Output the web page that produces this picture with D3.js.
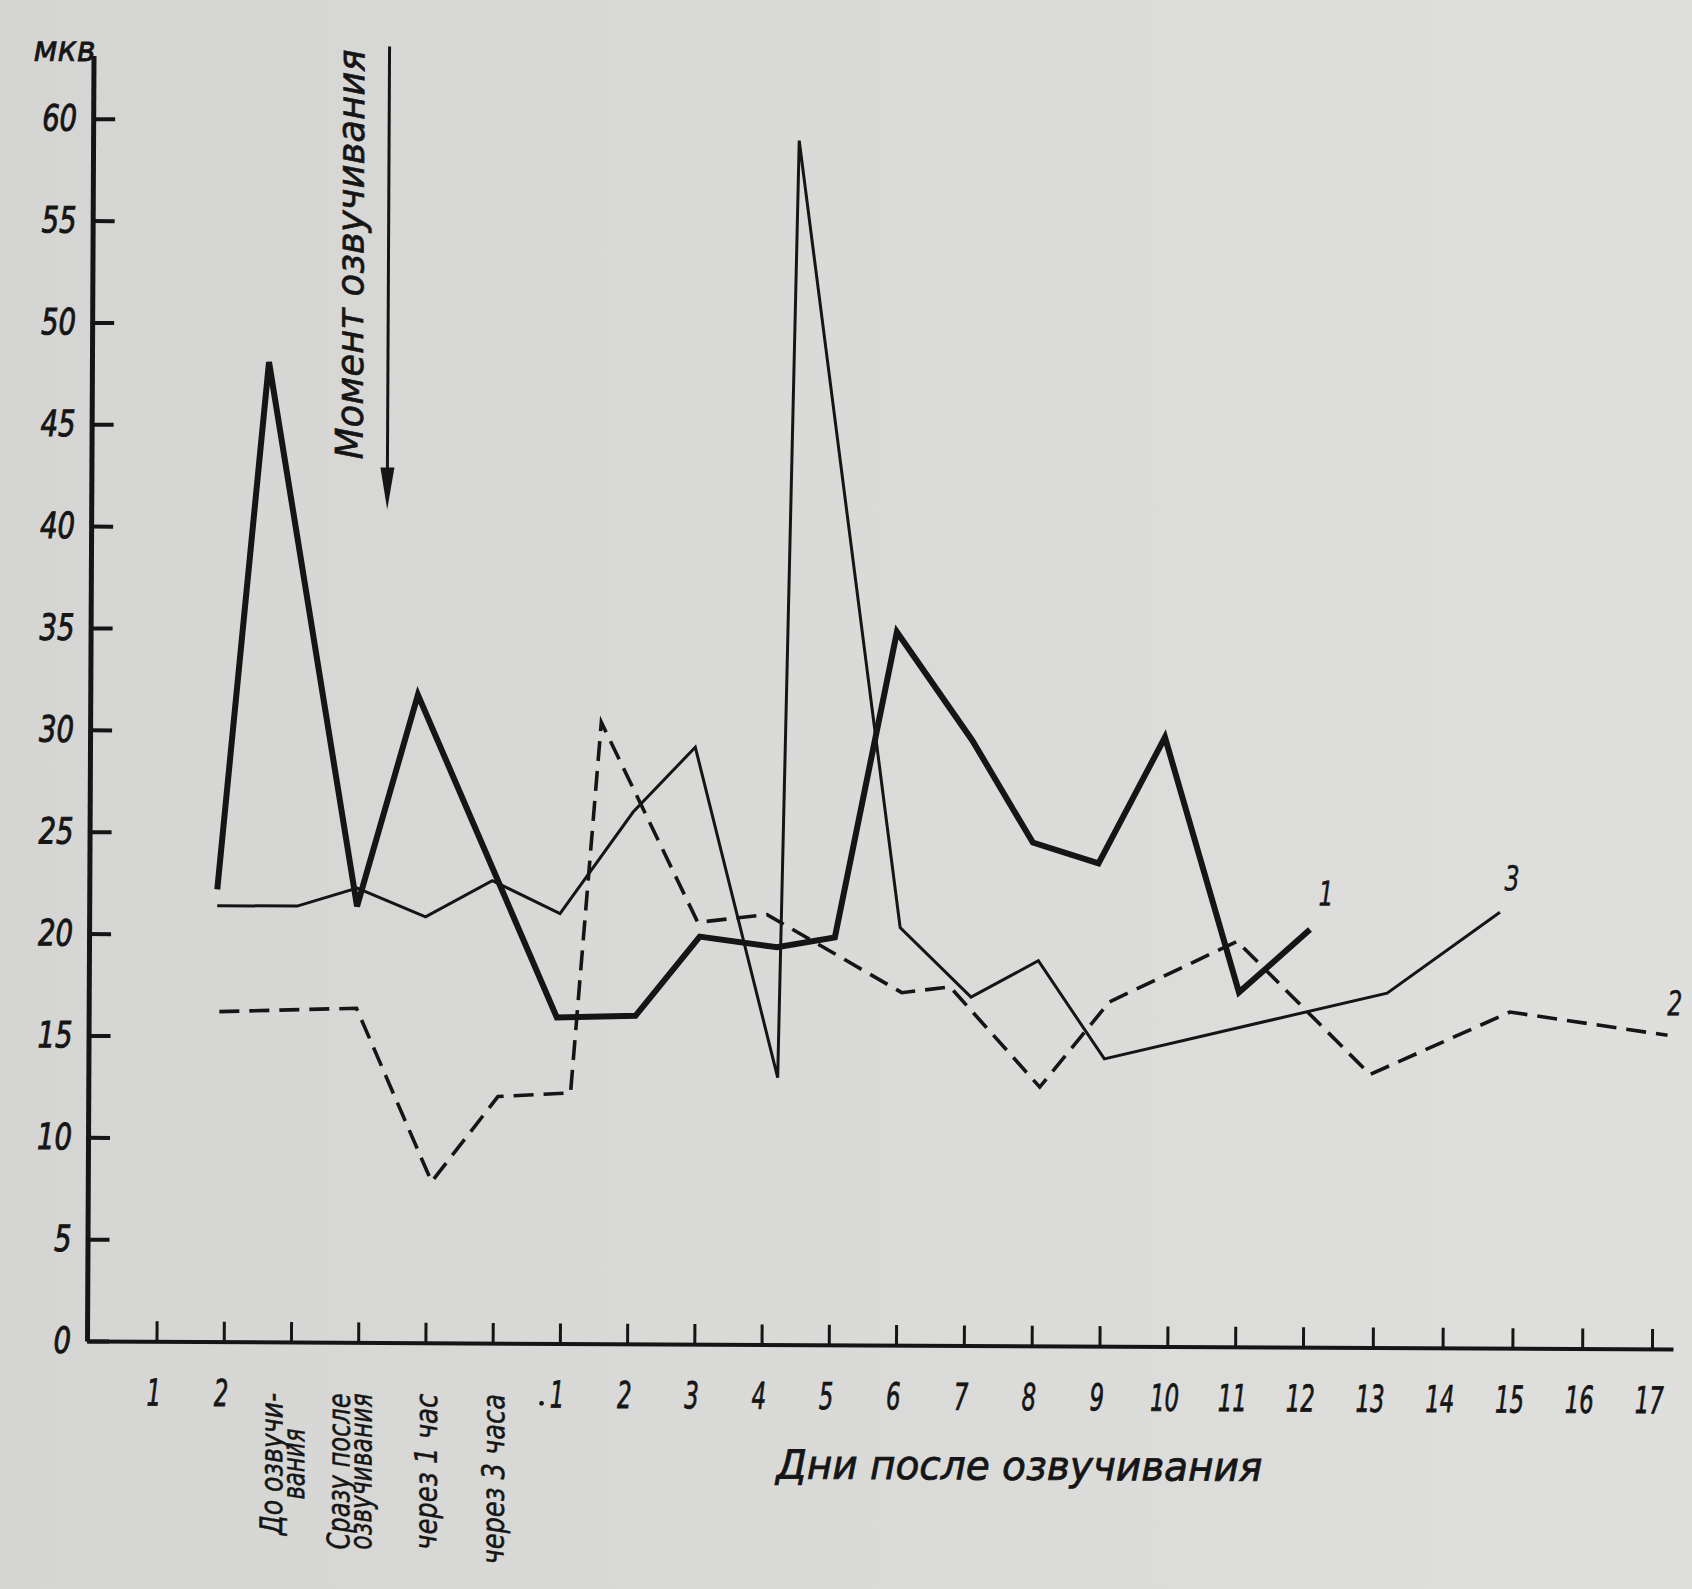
<!DOCTYPE html>
<html>
<head>
<meta charset="utf-8">
<script src="https://cdn.jsdelivr.net/npm/d3@7"></script>
<style>
  html, body { margin: 0; padding: 0; background: #d9dad7; }
  svg { display: block; }
  text {
    font-family: "DejaVu Sans", "Liberation Sans", sans-serif;
    font-style: italic;
    fill: #151515;
  }
</style>
</head>
<body>
<svg id="chart" width="1692" height="1589"></svg>
<script>
// ---- data ---------------------------------------------------------------
// x positions are measured in tick units along the time axis (0 … 22)
const tickIndex = d3.range(23);
const tickLabels = ["1", "2", "", "", "", "", "1", "2", "3", "4", "5", "6", "7",
                    "8", "9", "10", "11", "12", "13", "14", "15", "16", "17"];
const phaseTicks = [2, 3, 4, 5];
const phaseLines = [
  ["До озвучи-", "вания"],
  ["Сразу после", "озвучивания"],
  ["через 1 час"],
  ["через 3 часа"]
];
const yTickValues = [0, 5, 10, 15, 20, 25, 30, 35, 40, 45, 50, 55, 60];

// curve 1 (heavy solid)
const series1X = [0.87, 1.60, 2.95, 3.84, 5.93, 7.10, 8.05, 9.20, 10.06, 10.96, 12.08, 12.98, 13.95, 14.92, 16.03, 17.07];
const series1Y = [22.2, 48.1, 21.4, 31.8, 16.0, 16.1, 20.0, 19.5, 20.0, 35.0, 29.7, 24.7, 23.7, 29.9, 17.4, 20.5];
// curve 2 (dashed)
const series2X = [0.91, 2.95, 4.08, 5.06, 6.14, 6.57, 8.02, 9.05, 11.06, 11.77, 13.10, 14.12, 16.0, 17.94, 19.94, 22.2];
const series2Y = [16.2, 16.4, 7.9, 12.1, 12.3, 30.5, 20.7, 21.1, 17.3, 17.6, 12.7, 16.9, 19.9, 13.4, 16.5, 15.4];
// curve 3 (thin solid)
const series3X = [0.87, 2.06, 2.95, 3.97, 4.96, 5.97, 7.05, 7.97, 9.22, 9.47, 11.03, 12.08, 13.07, 14.05, 18.18, 19.79];
const series3Y = [21.4, 21.4, 22.3, 20.9, 22.7, 21.1, 26.1, 29.3, 13.1, 59.1, 20.5, 17.1, 18.9, 14.1, 17.4, 21.4];

const seriesNames = ["1", "2", "3"];

// ---- layout -------------------------------------------------------------
const W = 1692, H = 1589;
const ink = "#151515";
const svg = d3.select("#chart");

const defs = svg.append("defs");
const paper = defs.append("linearGradient").attr("id", "paper")
  .attr("x1", 0).attr("x2", 1).attr("y1", 0).attr("y2", 0);
paper.append("stop").attr("offset", "0%").attr("stop-color", "#d5d6d3");
paper.append("stop").attr("offset", "100%").attr("stop-color", "#dfe0dd");
svg.append("rect").attr("width", W).attr("height", H).attr("fill", "url(#paper)");

// the whole drawing sits very slightly tilted on the sheet
const g = svg.append("g").attr("transform", "rotate(0.29, 87, 1341)");

// hand-drawn tick spacing widens slightly to the right: piecewise scale
const x = d3.scaleLinear()
  .domain([-1.034, 0, 11, 17, 22, 22.3])
  .range([87, 156.5, 896, 1303, 1652, 1673]);
const y = d3.scaleLinear().domain([0, 63.1]).range([1341, 55.5]);

// narrow drafting lettering: stretch each string to a fixed advance per glyph
const narrow = (sel, perChar) => sel
  .attr("textLength", function () { return this.textContent.length * perChar; })
  .attr("lengthAdjust", "spacingAndGlyphs");

// ---- axes -----------------------------------------------------------------
const yAxis = d3.axisLeft(y)
  .tickValues(yTickValues)
  .tickSize(-22)
  .tickSizeOuter(0)
  .tickPadding(16)
  .tickFormat(d => String(d));
const gy = g.append("g").attr("transform", "translate(87,0)").call(yAxis);
gy.attr("font-family", null).attr("font-size", null);
gy.select(".domain").attr("stroke", ink).attr("stroke-width", 5);
gy.selectAll(".tick line").attr("stroke", ink).attr("stroke-width", 4);
gy.selectAll(".tick text")
  .attr("font-size", 36).attr("fill", ink)
  .attr("stroke", ink).attr("stroke-width", 1)
  .call(narrow, 17.5);

const xAxis = d3.axisBottom(x)
  .tickValues(tickIndex)
  .tickSize(-20)
  .tickSizeOuter(0)
  .tickPadding(38)
  .tickFormat(i => tickLabels[i]);
const gx = g.append("g").attr("transform", "translate(0,1341)").call(xAxis);
gx.attr("font-family", null).attr("font-size", null);
gx.select(".domain").attr("stroke", ink).attr("stroke-width", 4);
gx.selectAll(".tick line").attr("stroke", ink).attr("stroke-width", 3);
gx.selectAll(".tick text")
  .attr("font-size", 37).attr("dx", -3).attr("fill", ink)
  .attr("stroke", ink).attr("stroke-width", 0.8)
  .call(narrow, 14.5);

// small printed dot before the first post-treatment day
g.append("circle").attr("cx", x(6) - 18).attr("cy", 1401).attr("r", 2.4).attr("fill", ink);

// rotated phase labels under the first ticks
const phaseFont = 31, phaseChar = 14.2;
phaseTicks.forEach((t, i) => {
  const lines = phaseLines[i];
  const offsets = lines.length === 2 ? [-8, 14] : [12];
  const centerY = 1392 + lines[0].length * phaseChar / 2;
  lines.forEach((txt, j) => {
    g.append("text")
      .attr("font-size", phaseFont)
      .attr("text-anchor", "middle")
      .attr("stroke", ink).attr("stroke-width", 0.5)
      .text(txt)
      .call(narrow, phaseChar)
      .attr("transform", `translate(${x(t) + offsets[j]},${centerY}) rotate(-90)`);
  });
});

// axis titles
g.append("text")
  .attr("x", 89).attr("y", 61)
  .attr("text-anchor", "end")
  .attr("font-size", 35)
  .attr("stroke", ink).attr("stroke-width", 0.8)
  .attr("textLength", 62).attr("lengthAdjust", "spacingAndGlyphs")
  .text("мкв");

g.append("text")
  .attr("x", 1020).attr("y", 1475)
  .attr("text-anchor", "middle")
  .attr("font-size", 40)
  .attr("stroke", ink).attr("stroke-width", 0.8)
  .attr("textLength", 486).attr("lengthAdjust", "spacingAndGlyphs")
  .text("Дни после озвучивания");

// moment of sonication: vertical caption and arrow
g.append("text")
  .attr("transform", "translate(358,458) rotate(-90)")
  .attr("text-anchor", "start")
  .attr("font-size", 38)
  .attr("stroke", ink).attr("stroke-width", 0.6)
  .attr("textLength", 410).attr("lengthAdjust", "spacingAndGlyphs")
  .text("Момент озвучивания");

g.append("line")
  .attr("x1", 383).attr("x2", 383).attr("y1", 45).attr("y2", 480)
  .attr("stroke", ink).attr("stroke-width", 3);
g.append("path")
  .attr("d", "M376,466 L390,466 L383,508 Z")
  .attr("fill", ink);

// ---- curves ---------------------------------------------------------------
const line = d3.line().x(d => x(d[0])).y(d => y(d[1]));
const zip = (xs, ys) => xs.map((v, i) => [v, ys[i]]);

const curves = [
  { pts: zip(series2X, series2Y), width: 3.6, dash: "20,10" },
  { pts: zip(series3X, series3Y), width: 3.0, dash: null },
  { pts: zip(series1X, series1Y), width: 6.0, dash: null }
];
curves.forEach(c => {
  g.append("path")
    .attr("d", line(c.pts))
    .attr("fill", "none")
    .attr("stroke", ink)
    .attr("stroke-width", c.width)
    .attr("stroke-linejoin", "miter")
    .attr("stroke-miterlimit", 4)
    .attr("stroke-dasharray", c.dash);
});

// curve numbers written at the line ends
const endLabels = [
  { name: seriesNames[0], pts: zip(series1X, series1Y), dx: 16, dy: -24 },
  { name: seriesNames[2], pts: zip(series3X, series3Y), dx: 12, dy: -22 },
  { name: seriesNames[1], pts: zip(series2X, series2Y), dx: 7, dy: -20 }
];
endLabels.forEach(l => {
  const last = l.pts[l.pts.length - 1];
  g.append("text")
    .attr("x", x(last[0]) + l.dx)
    .attr("y", y(last[1]) + l.dy)
    .attr("text-anchor", "middle")
    .attr("font-size", 34)
    .attr("stroke", ink).attr("stroke-width", 0.5)
    .attr("textLength", 15).attr("lengthAdjust", "spacingAndGlyphs")
    .text(l.name);
});
</script>
</body>
</html>
